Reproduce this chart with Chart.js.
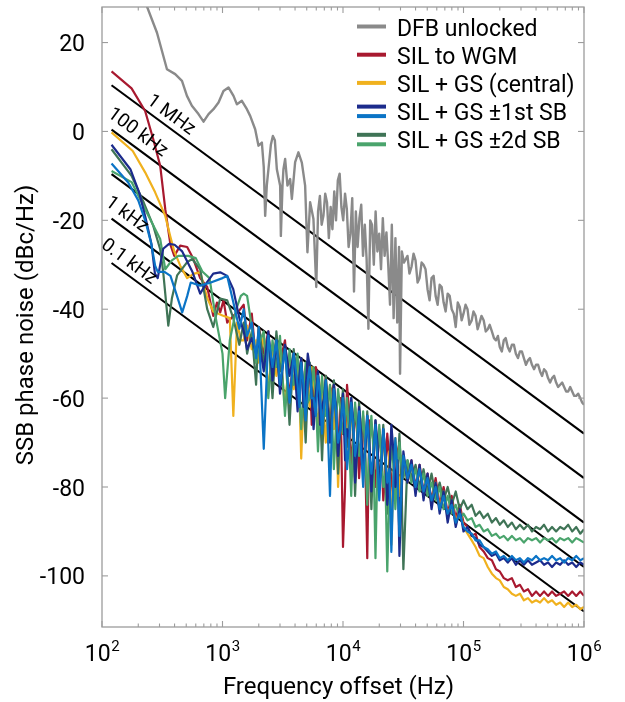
<!DOCTYPE html>
<html><head><meta charset="utf-8">
<script src="https://cdn.jsdelivr.net/npm/chart.js@4.4.0/dist/chart.umd.min.js"></script>
<style>html,body{margin:0;padding:0;background:#fff;}#wrap{width:625px;height:702px;}</style>
</head><body><div id="wrap"><canvas id="c" width="625" height="702"></canvas></div>
<script>
// ---------- data ----------
const legendLabels = ['DFB unlocked','SIL to WGM','SIL + GS (central)','SIL + GS \u00b11st SB','SIL + GS \u00b12d SB'];
const yTicks = [-100,-80,-60,-40,-20,0,20];
const xDecades = [2,3,4,5,6];
const refLabels = ['1 MHz','100 kHz','','1 kHz','0.1 kHz'];
const refStartF = 120, refEndF = 1000000;
const refStart = [10.4, 0.4, -9.6, -19.6, -29.6];
const refEnd = [-68, -78, -88, -98, -108];

// gray: DFB unlocked
const grayFreqLow = [215,286,346,405,461,507,557,632,696,766,842,927,1019,1121,1234,1317,1448,1594,1697,1867,1989,2122,2200,2260,2334,2406,2520,2618,2720,2825,3009,3050,3150,3204,3311,3460,3642,3763,4007,4266,4554,4850,5068,5337,5684];
const grayLow = [31,22.2,14,12.9,11.4,8,5.8,3.9,2.2,3.9,5,6.5,9.1,9.9,8,6.1,6.9,5,3.5,0.5,-3.2,-2.5,-8,-19,-12,-8.5,-3,-1,-2,-8.5,-12.2,-23.5,-12,-8.5,-6.2,-12.2,-10.7,-15.2,-6.9,-4.7,-7,-12.2,-27.2,-15.9,-19.7];
const grayFreqMid = [6000,6210,6430,6650,6880,7120,7370,7630,7900,8170,8460,8750,9060,9380,9700,10040,10400,10760,11130,11520,11930,12340,12780,13220,13690,14170,14660,15170,15700,16250,16820,17410,18020,18650,19300,19980,20680,21400,22150,22930,23730,24560,25420,26310,27230,28180,29170,29750,30800,32000];
const grayMid = [-35,-18,-14.5,-21,-19,-14,-16,-24,-17,-22,-13.5,-20,-11,-9.5,-17,-20,-14,-17.5,-26,-23,-15,-36,-18,-26,-19.5,-16.5,-28,-21,-28.7,-44.4,-20,-21,-30,-18,-27,-23,-31,-19.5,-28,-22.7,-30,-39,-21,-42,-24,-43,-26,-54.5,-27,-29.5];
const grayFreqHigh = [34300,37000,40000,43200,46600,50300,54300,58700,63400,68400,73900,79800,86200,93100,100000,108000,117000,126000,136000,147000,159000,172000,186000,200000,216000,233000,252000,272000,294000,317000,343000,370000,400000,432000,466000,503000,543000,587000,634000,684000,739000,798000,862000,931000,1000000];
const grayHigh = [-28,-30.5,-29,-33,-30,-35.5,-33,-37,-34.5,-38.5,-36.5,-40,-44,-39.5,-41,-40,-42.5,-41.5,-43,-42.5,-44.5,-45,-47,-48.5,-47,-48.5,-48,-50,-49.5,-51,-51.5,-52.5,-52.5,-54,-53.5,-55.5,-55.5,-56.5,-57,-57.5,-58.5,-58.5,-59.5,-60,-61.5];
const grayFreqHigh2 = [35600,38500,41600,44900,48400,52300,56500,61000,65900,71100,76800,83000,89600,96500,104000,112000,121000,131000,141000,153000,165000,179000,193000,208000,224000,242000,262000,283000,305000,330000,356000,385000,416000,449000,484000,523000,565000,610000,659000,711000,768000,830000,896000,965000];
const grayHigh2 = [-32,-27.5,-34,-29.5,-31,-38,-32.5,-39,-35,-40.5,-37,-41,-38.5,-42.5,-39,-43.5,-40.5,-44.5,-41.5,-45,-43.5,-46.5,-46,-49.5,-46.5,-49.5,-48,-51,-49.5,-52.5,-51,-53.5,-52.5,-55,-54,-56.5,-55,-57.5,-56.5,-58.5,-57.5,-59.5,-59,-61];

// shared frequency grid for the locked traces (Hz)
const freqGrid = [1500,1600,1750,1900,2000,2200,2400,2600,2800,3000,3300,3600,3900,4200,4500,4900,5300,5700,6200,6700,7200,7800,8400,9100,10000,10800,11700,12600,13600,14700,15900,17200,18600,20000,21600,23300,25200,27200,29400,31700,34300,37000,40000,43200,46600,50300,54300,58700,63400,68400,73900,79800,86200,93100,100000,108000,117000,126000,136000,147000,159000,172000,186000,200000,216000,233000,252000,272000,294000,317000,343000,370000,400000,432000,466000,503000,543000,587000,634000,684000,739000,798000,862000,931000,1000000];
// extra in-between frequencies for the densest noise region
const freqFine = [4350,4700,5100,5500,5950,6450,6950,7500,8100,8750,9550,10400,11250,12150,13100,14150,15300,16550,17900,19300,20800,22450,24250,26200,28300,30550];

const redFreqLow = [120,176,228,266,304,335,370,398,446,509,571,653,747,838,900,957,1020,1094,1228,1360];
const redLow = [13.5,9.7,4.6,-1.7,-7.7,-17.5,-25.5,-28,-25.7,-26,-28.6,-33,-35,-41.5,-38.5,-40.7,-38,-43,-41.5,-40.5];
const redGrid = [-39,-47,-41,-52,-44,-50,-45,-57,-46,-52,-47,-60,-50,-56,-51,-64,-53,-60,-55,-69,-55,-64,-57,-72,-93.5,-57,-75,-62,-78,-64,-96,-66,-80,-67,-83,-68,-78,-70,-84,-73,-78,-74,-80,-75,-81,-77,-83,-78,-84,-80,-86,-82,-87,-84,-88,
 -89,-91,-90.5,-93.5,-94.5,-96,-96.5,-98.5,-99,-100.5,-101,-100.5,-102.5,-102,-103.5,-103,-104.5,-103.5,-104.5,-103.5,-104.5,-103.5,-104.5,-104,-103.5,-104.5,-103.5,-104.5,-103.5,-104.5];
const redFine = [-61,-58,-52,-66,-53,-58,-62,-70,-58,-65,-60,-80,-63,-70,-68,-70,-74,-65,-70,-75,-72,-77,-74,-83,-72,-78];

const orangeFreqLow = [120,180,228,276,335,368,398,446,509,580,653,747,838,1000,1150,1230,1320,1420];
const orangeLow = [-0.2,-4.4,-9.2,-13.7,-19,-23.5,-27,-30.2,-33,-32,-31.7,-37.5,-40.5,-41.4,-42,-64,-43,-47];
const orangeGrid = [-47,-43.7,-49,-47,-52,-46,-58,-48,-55,-49,-62,-50,-58,-52,-73.6,-53,-62,-55,-66,-56,-70,-57,-67,-80,-59,-72,-61,-78,-63,-75,-65,-82,-66,-78,-67,-84,-93,-69,-82,-74,-79,-75,-81,-76,-82,-78,-84,-79,-85,-81,-87,-83,-88,-85,-89,
 -90.5,-92,-93.5,-95.5,-96,-98,-99.5,-100.5,-101,-102.5,-103,-104,-104.5,-104,-105.5,-105,-106,-105.5,-106,-105,-106,-105.5,-106.5,-106,-107,-106,-107,-106.5,-107.5,-107];
const orangeFine = [-59,-60,-58,-53,-62,-61,-64,-62,-63,-61,-66,-64,-70,-68,-72,-70,-71,-73,-75,-71,-76,-74,-72,-77,-76,-73];

const navyFreqLow = [120,172,205,230,258,275,290,322,360,400,463,561,653,740,838,957,1094,1228,1380];
const navyLow = [-3,-8.5,-14,-19.5,-25.5,-32,-33,-26.4,-25.3,-25.5,-27,-31.5,-36.5,-34,-32,-31.7,-32.5,-35.5,-42];
const navyGrid = [-45,-49,-46.5,-50,-47,-54,-45,-56,-47,-59,-48,-55,-50,-63,-51,-58,-53,-67,-54,-62,-56,-70,-57,-73,-59,-67,-60,-79,-62,-76,-64,-81,-65,-79,-67,-84,-66,-80,-95.5,-72,-79,-74,-82,-75,-83,-77,-85,-79,-86,-81,-88,-83,-89,-85,-90,
 -89,-91,-91.5,-93,-93.5,-94.5,-95.5,-95,-96.5,-96,-97,-96,-97.5,-96.5,-97.5,-96.5,-97.5,-97,-96.5,-97.5,-97,-98,-97,-97.5,-96.5,-97.5,-97,-98,-97,-97.5];
const navyFine = [-55,-62,-50,-60,-59,-66,-60,-63,-64,-62,-66,-74,-69,-65,-72,-68,-72,-70,-74,-70,-76,-72,-78,-72,-74,-82];

const blueFreqLow = [120,165,200,228,255,276,290,330,370,410,463,510,545,653,800,1000,1094,1228,1380];
const blueLow = [-7.2,-11.5,-15.5,-20,-25,-30.2,-31.6,-31.6,-32.5,-36.2,-40.7,-37,-34,-34.7,-34,-33,-32.5,-38.4,-44.4];
const blueGrid = [-40,-46,-43,-51,-44,-71.4,-46,-53,-47,-57,-49,-61,-50,-57,-52,-65,-53,-60,-55,-68,-56,-82,-58,-70,-60,-76,-61,-73,-63,-80,-64,-77,-66,-83,-67,-79,-94.6,-69,-91,-73,-78,-75,-80,-76,-81,-78,-83,-80,-85,-82,-86,-84,-88,-86,-89,
 -90,-90.5,-92,-92,-93.5,-94,-95,-94.5,-96,-95.5,-96.5,-95.5,-96.5,-96,-97,-96,-96.5,-95.5,-96.5,-96,-96.5,-95.5,-96.5,-96,-97,-96,-96.5,-95.5,-96.5,-96];
const blueFine = [-62,-57,-56,-60,-64,-59,-62,-68,-66,-63,-67,-66,-70,-66,-70,-72,-70,-73,-72,-74,-75,-73,-76,-78,-77,-80];

const dkGreenFreqLow = [120,176,222,266,304,322,355,380,420,509,560,653,747,838,957,1094,1228,1380];
const dkGreenLow = [-4,-10,-16,-21.2,-26.5,-31.6,-43.7,-37.6,-32.4,-29.4,-28.7,-31,-40,-44,-37.6,-38,-42,-48];
const dkGreenGrid = [-43,-50,-45,-57,-44,-52,-46,-60,-45,-54,-48,-66,-49,-59,-51,-70,-52,-62,-54,-74,-55,-66,-56,-77,-58,-71,-60,-82,-61,-75,-63,-85,-65,-78,-66,-86,-67,-80,-68,-98.5,-74,-78,-75,-80,-76,-81,-77,-82,-79,-83,-80,-84,-81,-85,-83,
 -85,-84,-86.5,-85.5,-87,-86,-88,-87,-88.5,-87.5,-89,-88,-89.5,-88.5,-89.5,-88.5,-90,-89,-89.5,-88.5,-90,-89,-90,-89,-89.5,-88.5,-90,-89,-90.5,-89.5];
const dkGreenFine = [-54,-60,-58,-57,-59,-62,-63,-61,-63,-66,-64,-67,-66,-69,-70,-68,-72,-71,-72,-74,-73,-75,-76,-74,-77,-79];

const greenFreqLow = [120,176,228,304,335,380,430,520,600,680,780,880,1000,1052,1150,1300,1420];
const greenLow = [-8.9,-11.4,-17.5,-24.2,-31,-29,-28,-28,-28.5,-31.5,-33,-42,-50,-60,-47,-40,-37];
const greenGrid = [-36.5,-37,-44,-52,-48,-45,-60,-47,-53,-46,-64,-49,-57,-50,-67,-52,-60,-53,-72,-55,-64,-57,-76,-58,-68,-60,-82,-61,-73,-63,-84,-64,-96,-66,-80,-99,-70,-85,-70,-78,-74,-79,-76,-81,-77,-82,-79,-83,-80,-85,-82,-86,-84,-87,-86,
 -87.5,-87,-89,-88.5,-90,-89.5,-91,-90.5,-91.5,-91,-92,-91,-92,-91.5,-92.5,-91.5,-92,-91.5,-92.5,-91.5,-92,-91.5,-92.5,-91.5,-92,-91.5,-92.5,-91.5,-92,-92.5];
const greenFine = [-60,-58,-61,-57,-60,-62,-61,-62,-64,-66,-63,-65,-70,-69,-67,-69,-72,-71,-72,-75,-73,-77,-81,-75,-76,-75];

// ---------- styling ----------
const COL = {gray:'#8a8a8a', red:'#a8192f', orange:'#f0b11e', navy:'#1c2b8c', blue:'#0b74c6', dkgreen:'#3f7456', green:'#4aa46c'};
const FONT = 'Roboto, "Open Sans", sans-serif';

function pts(f, v){ return f.map((x,i)=>({x:x, y:v[i]})); }
function byX(a,b){ return a.x - b.x; }
function series(fLow, vLow, vGrid, vFine){ return pts(fLow, vLow).concat(pts(freqGrid, vGrid), pts(freqFine, vFine)).sort(byX); }

const lineDs = (data, color, w) => ({data, borderColor:color, borderWidth:w, pointRadius:0, fill:false, tension:0, clip:0, borderJoinStyle:'round'});

const datasets = [
  lineDs(series(blueFreqLow, blueLow, blueGrid, blueFine), COL.blue, 2.2),
  lineDs(series(navyFreqLow, navyLow, navyGrid, navyFine), COL.navy, 2.2),
  lineDs(series(greenFreqLow, greenLow, greenGrid, greenFine), COL.green, 2.2),
  lineDs(series(dkGreenFreqLow, dkGreenLow, dkGreenGrid, dkGreenFine), COL.dkgreen, 2.2),
  lineDs(series(orangeFreqLow, orangeLow, orangeGrid, orangeFine), COL.orange, 2.2),
  lineDs(series(redFreqLow, redLow, redGrid, redFine), COL.red, 2.2),
  lineDs(pts(grayFreqLow, grayLow).concat(pts(grayFreqMid, grayMid), pts(grayFreqHigh, grayHigh), pts(grayFreqHigh2, grayHigh2)).sort(byX), COL.gray, 2.4),
];
refStart.forEach((s,i)=>{
  datasets.push(lineDs([{x:refStartF, y:s},{x:refEndF, y:refEnd[i]}], '#000', 2.1));
});

const legendStyle = [[COL.gray],[COL.red],[COL.orange],[COL.navy, COL.blue],[COL.dkgreen, COL.green]];
const refLabelPlace = [{f:329,d:11},{f:170,d:13},null,{f:140,d:12},{f:147,d:11}];

const decor = {
  id:'decor',
  afterDraw(chart){
    const {ctx, chartArea:a, scales:{x, y}} = chart;
    ctx.save();
    ctx.strokeStyle = '#9c9c9c'; ctx.lineWidth = 1.3;
    ctx.strokeRect(a.left, a.top, a.right - a.left, a.bottom - a.top);
    const seg = (x1,y1,x2,y2)=>{ ctx.beginPath(); ctx.moveTo(x1,y1); ctx.lineTo(x2,y2); ctx.stroke(); };
    ctx.lineWidth = 1.1;
    xDecades.forEach(e=>{
      for(let k=1;k<=9;k++){
        const v = k*Math.pow(10,e); if (v>1e6) break;
        const px = x.getPixelForValue(v); const L = k===1 ? 6 : 3.5;
        seg(px, a.bottom, px, a.bottom-L); seg(px, a.top, px, a.top+L);
      }
    });
    yTicks.forEach(v=>{ const py = y.getPixelForValue(v); seg(a.left,py,a.left+6,py); seg(a.right,py,a.right-6,py); });
    ctx.fillStyle = '#000';
    ctx.font = '23px ' + FONT; ctx.textAlign = 'right'; ctx.textBaseline = 'alphabetic';
    yTicks.forEach(v=>{ ctx.fillText(String(v), 85, y.getPixelForValue(v) + 8.5); });
    xDecades.forEach(e=>{
      const px = x.getPixelForValue(Math.pow(10,e));
      ctx.font = '23px ' + FONT; const w1 = ctx.measureText('10').width;
      ctx.font = '15px ' + FONT; const w2 = ctx.measureText(String(e)).width;
      const x0 = px - (w1 + w2)/2;
      ctx.textAlign = 'left';
      ctx.font = '23px ' + FONT; ctx.fillText('10', x0, 661);
      ctx.font = '15px ' + FONT; ctx.fillText(String(e), x0 + w1 + 0.5, 651);
    });
    ctx.font = '24px ' + FONT; ctx.textAlign = 'center';
    ctx.fillText('Frequency offset (Hz)', 338.5, 694);
    ctx.save(); ctx.translate(33, 325); ctx.rotate(-Math.PI/2);
    ctx.fillText('SSB phase noise (dBc/Hz)', 0, 0); ctx.restore();
    ctx.font = '19px ' + FONT; ctx.textBaseline = 'middle';
    refLabels.forEach((t,i)=>{
      const p = refLabelPlace[i]; if (!t || !p) return;
      const x1 = x.getPixelForValue(refStartF), y1 = y.getPixelForValue(refStart[i]);
      const x2 = x.getPixelForValue(refEndF), y2 = y.getPixelForValue(refEnd[i]);
      const ang = Math.atan2(y2-y1, x2-x1);
      const px = x.getPixelForValue(p.f); const py = y1 + (px-x1)/(x2-x1)*(y2-y1);
      ctx.save(); ctx.translate(px, py); ctx.rotate(ang); ctx.fillText(t, 0, -p.d); ctx.restore();
    });
    ctx.font = '23px ' + FONT; ctx.textAlign = 'left'; ctx.textBaseline = 'alphabetic';
    legendLabels.forEach((t,i)=>{
      const base = 35.5 + i*28.2; const cy = base - 9;
      const cols = legendStyle[i];
      ctx.lineWidth = 4; ctx.lineCap = 'butt';
      if (cols.length === 1){ ctx.strokeStyle = cols[0]; seg(357, cy, 386, cy); }
      else { ctx.strokeStyle = cols[0]; seg(357, cy-4.5, 386, cy-4.5); ctx.strokeStyle = cols[1]; seg(357, cy+5, 386, cy+5); }
      ctx.fillStyle = '#000'; ctx.fillText(t, 397, base);
    });
    ctx.restore();
  }
};

new Chart(document.getElementById('c').getContext('2d'), {
  type:'line',
  data:{datasets},
  options:{
    responsive:false, animation:false, events:[],
    layout:{padding:{left:102, right:41, top:7, bottom:75}},
    scales:{
      x:{type:'logarithmic', min:100, max:1000000, display:false},
      y:{type:'linear', min:-111.5, max:28, display:false}
    },
    plugins:{legend:{display:false}, tooltip:{enabled:false}}
  },
  plugins:[decor]
});
</script></body></html>
